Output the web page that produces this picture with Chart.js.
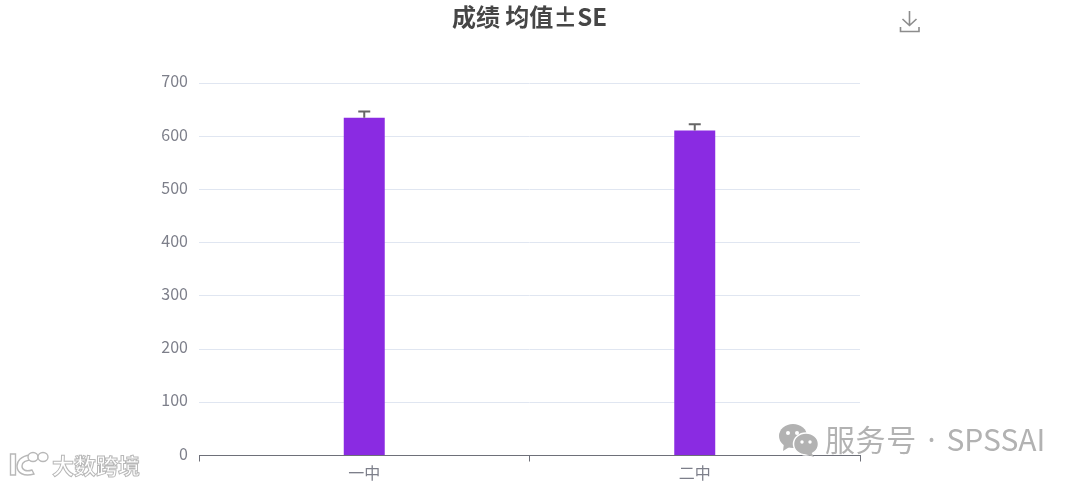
<!DOCTYPE html>
<html>
<head>
<meta charset="utf-8">
<title>成绩 均值±SE</title>
<script src="https://cdn.jsdelivr.net/npm/chart.js@4"></script>
<style>
html, body { margin: 0; padding: 0; background: #fff; overflow: hidden; }
#wrap { position: relative; width: 1080px; height: 484px; font-family: "Noto Sans CJK SC", "Noto Sans", sans-serif; }
canvas { position: absolute; left: 0; top: 0; }
.mark { position: absolute; white-space: nowrap; line-height: 1; }
#wechatText { left: 825px; top: 423px; font-size: 30px; color: #b2b2b2; }
#wechatText .cn { letter-spacing: 0.6px; }
#wechatText .dot { font-family: "Noto Sans"; word-spacing: 3px; }
#brandText { left: 52px; top: 453px; font-size: 22px; font-weight: 700; color: #fff; -webkit-text-stroke: 1px #b8b8b8; }
#brandLogo { left: 9px; top: 447px; }
#wechatIcon { left: 778px; top: 422px; }
#download { left: 899px; top: 10px; }
</style>
</head>
<body>
<div id="wrap">
  <canvas id="myChart" width="1080" height="484"></canvas>

  <svg id="download" class="mark" width="22" height="24" viewBox="0 0 22 24" fill="none" stroke="#8c8c8c" stroke-width="1.6">
    <path d="M10.5 1 V15 M3.5 9 L10.5 15.5 L17.5 9 M1.5 17 V21.5 H20 V17"/>
  </svg>

  <svg id="wechatIcon" class="mark" width="42" height="36" viewBox="0 0 42 36">
    <ellipse cx="15" cy="14" rx="14" ry="12" fill="#b2b2b2"/>
    <path d="M6 21 L5 29 L13 24 Z" fill="#b2b2b2"/>
    <ellipse cx="28" cy="22" rx="12.5" ry="11" fill="#b2b2b2" stroke="#fff" stroke-width="1.5"/>
    <path d="M33 30 L36 35 L27 32 Z" fill="#b2b2b2"/>
    <circle cx="10" cy="11" r="2" fill="#fff"/>
    <circle cx="19" cy="11" r="2" fill="#fff"/>
    <circle cx="24" cy="20" r="1.7" fill="#fff"/>
    <circle cx="32" cy="20" r="1.7" fill="#fff"/>
  </svg>
  <div id="wechatText" class="mark"><span class="cn">服务号</span><span class="dot"> · </span>SPSSAI</div>

  <svg id="brandLogo" class="mark" width="42" height="32" viewBox="0 0 42 32" fill="#fff" stroke="#b8b8b8" stroke-width="1.4">
    <path d="M1.5 7 H6.5 V28 H1.5 Z"/>
    <path d="M21 8 C12 9 8 14 8 19 C8 26 15 30 25 27 L23 23 C17 25 13 23 13 19 C13 15 17 13 24 13 Z"/>
    <ellipse cx="24" cy="10" rx="5" ry="4.5"/>
    <ellipse cx="34" cy="10" rx="5" ry="4.5"/>
  </svg>
  <div id="brandText" class="mark">大数跨境</div>
</div>

<script>
// values
const schools = ['一中', '二中'];
const scoreMean = [635, 611];
const scoreSE = [12, 12];
const yTicks = [0, 100, 200, 300, 400, 500, 600, 700];

// error bars go through the y scale, chart.js has no built in one
const errorBars = {
    id: 'errorBars',
    afterDatasetsDraw(chart) {
        const ctx = chart.ctx;
        const y = chart.scales.y;
        const bars = chart.getDatasetMeta(0).data;
        ctx.save();
        ctx.strokeStyle = '#666666';
        ctx.lineWidth = 2;
        bars.forEach((bar, i) => {
            const top = y.getPixelForValue(scoreMean[i] + scoreSE[i]);
            const base = y.getPixelForValue(scoreMean[i]);
            ctx.beginPath();
            ctx.moveTo(bar.x, base);
            ctx.lineTo(bar.x, top);
            ctx.moveTo(bar.x - 6, top);
            ctx.lineTo(bar.x + 6, top);
            ctx.stroke();
        });
        ctx.restore();
    }
};

const ctx = document.getElementById('myChart').getContext('2d');
const scoreChart = new Chart(ctx, {
    type: 'bar',
    data: {
        labels: schools,
        datasets: [{
            label: '成绩',
            data: scoreMean,
            backgroundColor: '#8a2be2',
            categoryPercentage: 1,
            barPercentage: 0.124
        }]
    },
    plugins: [errorBars],
    options: {
        responsive: false,
        animation: false,
        layout: {
            padding: { left: 0, right: 220, top: 2, bottom: 0 }
        },
        plugins: {
            legend: { display: false },
            tooltip: { enabled: false },
            title: {
                display: true,
                text: '成绩 均值±SE',
                fullSize: false,
                color: '#464646',
                font: { family: '"Noto Sans CJK SC"', size: 24, weight: 'bold' },
                padding: { top: 0, bottom: 52.5 }
            }
        },
        scales: {
            x: {
                afterFit(axis) { axis.height = 28.5; },
                grid: { drawOnChartArea: false, color: '#6e7079', tickLength: 6, offset: true },
                border: { color: '#6e7079' },
                ticks: {
                    color: '#7d7f8a',
                    padding: 2,
                    font: { family: '"Noto Sans CJK SC"', size: 16 }
                }
            },
            y: {
                min: 0,
                max: 700,
                afterFit(axis) { axis.width = 199; },
                afterBuildTicks(axis) { axis.ticks = yTicks.map(v => ({ value: v })); },
                grid: { color: '#e0e6f1', drawTicks: false },
                border: { display: false },
                ticks: {
                    color: '#7d7f8a',
                    padding: 11,
                    labelOffset: -2,
                    font: { family: '"Noto Sans CJK SC"', size: 16 }
                }
            }
        }
    }
});
</script>
</body>
</html>
